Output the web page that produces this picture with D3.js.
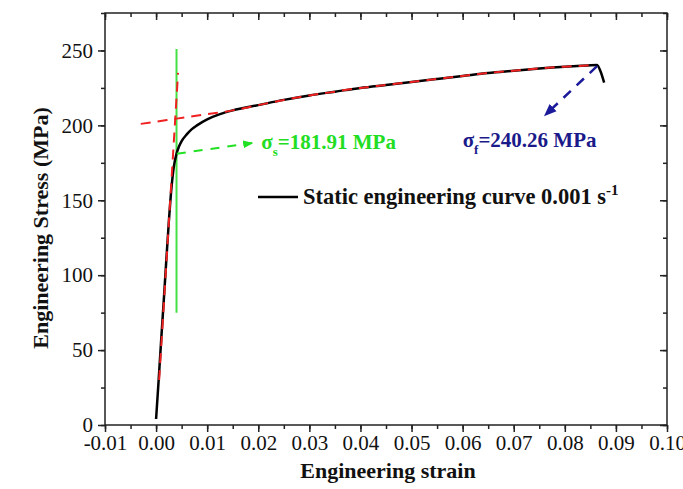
<!DOCTYPE html>
<html>
<head>
<meta charset="utf-8">
<script src="https://cdn.jsdelivr.net/npm/d3@7"></script>
<style>
  body { margin: 0; background: #fff; }
  text { font-family: "Liberation Serif", "Times New Roman", serif; }
</style>
</head>
<body>
<div id="chart"></div>
<script>
  // engineering curve
  var strain = [0.0000, 0.0005, 0.0010, 0.0015, 0.0020, 0.0025, 0.0030, 0.0035, 0.0040, 0.0045,
                0.0050, 0.0060, 0.0070, 0.0080, 0.0100, 0.0125, 0.0150, 0.0200, 0.0250, 0.0300,
                0.0350, 0.0400, 0.0450, 0.0500, 0.0550, 0.0600, 0.0650, 0.0700, 0.0750, 0.0800,
                0.0845, 0.0863, 0.0870, 0.0877];
  var stress = [4, 30, 57, 83, 110, 136, 158, 173, 181, 186,
                189.5, 194, 197.5, 200, 204, 207.5, 210, 213.5, 217, 220,
                222.5, 225, 227, 229, 231, 233, 235, 236.5, 238, 239.2,
                240, 240.3, 236, 228.5];

  // red dashed fits: elastic line and hardening fit
  var elasticFitX = [0.0006, 0.0043];
  var elasticFitY = [30, 235];
  var plasticFitX = [-0.003, 0.004, 0.010, 0.015, 0.020, 0.025, 0.030, 0.035, 0.040, 0.045,
                     0.050, 0.055, 0.060, 0.065, 0.070, 0.075, 0.080, 0.085];
  var plasticFitY = [201, 204.5, 207.5, 210, 213.5, 217, 220, 222.5, 225, 227,
                     229, 231, 233, 235, 236.5, 238, 239.2, 240];

  // green vertical line at yield strain
  var yieldLineX = [0.0040, 0.0040];
  var yieldLineY = [75, 251];

  // annotation arrows [from, to]
  var yieldArrowX = [0.00406, 0.0188];
  var yieldArrowY = [181.1, 188.2];
  var peakArrowX = [0.0863, 0.0761];
  var peakArrowY = [239.5, 206.7];

  var xTicks = [-0.01, 0.00, 0.01, 0.02, 0.03, 0.04, 0.05, 0.06, 0.07, 0.08, 0.09, 0.10];
  var yTicks = [0, 50, 100, 150, 200, 250];

  var serif = "'Liberation Serif', 'Times New Roman', serif";

  var margin = {top: 13, right: 16, bottom: 64, left: 105},
      width = 683 - margin.left - margin.right,
      height = 489 - margin.top - margin.bottom;

  var svgRoot = d3.select("#chart")
    .append("svg")
      .attr("width", 683)
      .attr("height", 489);

  var defs = svgRoot.append("defs");
  function arrowMarker(id, color) {
    defs.append("marker")
      .attr("id", id)
      .attr("viewBox", "0 0 10 10")
      .attr("refX", 9).attr("refY", 5)
      .attr("markerWidth", 5).attr("markerHeight", 5)
      .attr("markerUnits", "strokeWidth")
      .attr("orient", "auto")
      .append("path")
        .attr("d", "M0,1 L10,5 L0,9 Z")
        .style("fill", color);
  }
  arrowMarker("arrGreen", "#22e022");
  arrowMarker("arrBlue", "#1a1a9a");

  var svg = svgRoot.append("g")
      .attr("transform", "translate(" + margin.left + "," + margin.top + ")");

  var x = d3.scaleLinear().domain([-0.01, 0.10]).range([0, width]);
  var y = d3.scaleLinear().domain([0, 275]).range([height, 0]);

  var minorX = d3.range(-0.01, 0.1001, 0.005);
  var minorY = d3.range(0, 276, 25);

  // minor ticks
  svg.append("g").attr("class", "ax")
    .attr("transform", "translate(0," + height + ")")
    .call(d3.axisBottom(x).tickValues(minorX).tickSize(4).tickFormat(""));
  svg.append("g").attr("class", "ax")
    .call(d3.axisTop(x).tickValues(minorX).tickSize(-4).tickFormat(""));
  svg.append("g").attr("class", "ax")
    .call(d3.axisLeft(y).tickValues(minorY).tickSize(4).tickFormat(""));
  svg.append("g").attr("class", "ax")
    .attr("transform", "translate(" + width + ",0)")
    .call(d3.axisRight(y).tickValues(minorY).tickSize(-4).tickFormat(""));

  // major ticks
  var fmtX = function(d) { return d3.format(".2f")(d).replace("−", "-"); };
  svg.append("g").attr("class", "ax lab")
    .attr("transform", "translate(0," + height + ")")
    .call(d3.axisBottom(x).tickValues(xTicks).tickSize(7).tickPadding(3).tickFormat(fmtX));
  svg.append("g").attr("class", "ax")
    .call(d3.axisTop(x).tickValues(xTicks).tickSize(-7).tickFormat(""));
  svg.append("g").attr("class", "ax lab")
    .call(d3.axisLeft(y).tickValues(yTicks).tickSize(7).tickPadding(5).tickFormat(d3.format("d")));
  svg.append("g").attr("class", "ax")
    .attr("transform", "translate(" + width + ",0)")
    .call(d3.axisRight(y).tickValues(yTicks).tickSize(-7).tickFormat(""));

  svg.selectAll(".ax .domain").remove();
  svg.selectAll(".ax line").style("stroke", "#222").style("stroke-width", 1.5);
  svg.selectAll(".lab")
    .attr("font-family", serif)
    .attr("font-size", 21);
  svg.selectAll(".lab text")
    .style("font-family", serif)
    .style("font-size", "21px")
    .style("fill", "#111");

  svg.append("rect")
    .attr("width", width).attr("height", height)
    .style("fill", "none").style("stroke", "#222").style("stroke-width", 1.5);

  var line = d3.line()
    .x(function(d) { return x(d[0]); })
    .y(function(d) { return y(d[1]); });
  var smooth = d3.line().curve(d3.curveMonotoneX)
    .x(function(d) { return x(d[0]); })
    .y(function(d) { return y(d[1]); });

  // green yield line
  svg.append("path")
    .datum(d3.zip(yieldLineX, yieldLineY))
    .attr("d", line)
    .style("fill", "none").style("stroke", "#44e044").style("stroke-width", 2);

  // main curve
  svg.append("path")
    .datum(d3.zip(strain, stress))
    .attr("d", smooth)
    .style("fill", "none").style("stroke", "#000").style("stroke-width", 2.5);

  // red fits
  svg.append("path")
    .datum(d3.zip(elasticFitX, elasticFitY))
    .attr("d", line)
    .style("fill", "none").style("stroke", "#f02020")
    .style("stroke-width", 2).style("stroke-dasharray", "10,7");
  svg.append("path")
    .datum(d3.zip(plasticFitX, plasticFitY))
    .attr("d", smooth)
    .style("fill", "none").style("stroke", "#f02020")
    .style("stroke-width", 2).style("stroke-dasharray", "10,7");

  // arrows
  svg.append("path")
    .datum(d3.zip(yieldArrowX, yieldArrowY))
    .attr("d", line)
    .attr("marker-end", "url(#arrGreen)")
    .style("fill", "none").style("stroke", "#22e022")
    .style("stroke-width", 2).style("stroke-dasharray", "9,8");
  svg.append("path")
    .datum(d3.zip(peakArrowX, peakArrowY))
    .attr("d", line)
    .attr("marker-end", "url(#arrBlue)")
    .style("fill", "none").style("stroke", "#1a1a9a")
    .style("stroke-width", 2.5).style("stroke-dasharray", "10,8");

  // annotation labels
  var t1 = svg.append("text")
    .attr("x", x(0.0206)).attr("y", y(184))
    .style("font-family", serif)
    .style("font-size", "21px").style("font-weight", "bold").style("fill", "#22dd22");
  t1.append("tspan").text("σ");
  t1.append("tspan").attr("dy", 7).style("font-size", "13px").text("s");
  t1.append("tspan").attr("dy", -7).text("=181.91 MPa");

  var t2 = svg.append("text")
    .attr("x", x(0.0600)).attr("y", y(185.5))
    .style("font-family", serif)
    .style("font-size", "21px").style("font-weight", "bold").style("fill", "#1a1a8a");
  t2.append("tspan").text("σ");
  t2.append("tspan").attr("dy", 7).style("font-size", "13px").text("f");
  t2.append("tspan").attr("dy", -7).text("=240.26 MPa");

  // legend
  var leg = svg.append("g").attr("transform", "translate(" + (258 - margin.left) + "," + (197 - margin.top) + ")");
  leg.append("line").attr("x1", 0).attr("x2", 40).attr("y1", 0).attr("y2", 0)
    .style("stroke", "#000").style("stroke-width", 2.5);
  var lt = leg.append("text").attr("x", 45).attr("y", 7)
    .style("font-family", serif)
    .style("font-size", "22.5px").style("font-weight", "bold").style("fill", "#111");
  lt.append("tspan").text("Static engineering curve 0.001 s");
  lt.append("tspan").attr("dy", -9).style("font-size", "15px").text("-1");

  // axis titles
  svgRoot.append("text")
    .attr("x", margin.left + width / 2 + 2).attr("y", 478)
    .attr("text-anchor", "middle")
    .style("font-family", serif)
    .style("font-size", "22px").style("font-weight", "bold").style("fill", "#111")
    .text("Engineering strain");
  svgRoot.append("text")
    .attr("transform", "translate(48,228) rotate(-90)")
    .attr("text-anchor", "middle")
    .style("font-family", serif)
    .style("font-size", "22px").style("font-weight", "bold").style("fill", "#111")
    .text("Engineering Stress (MPa)");
</script>
</body>
</html>
